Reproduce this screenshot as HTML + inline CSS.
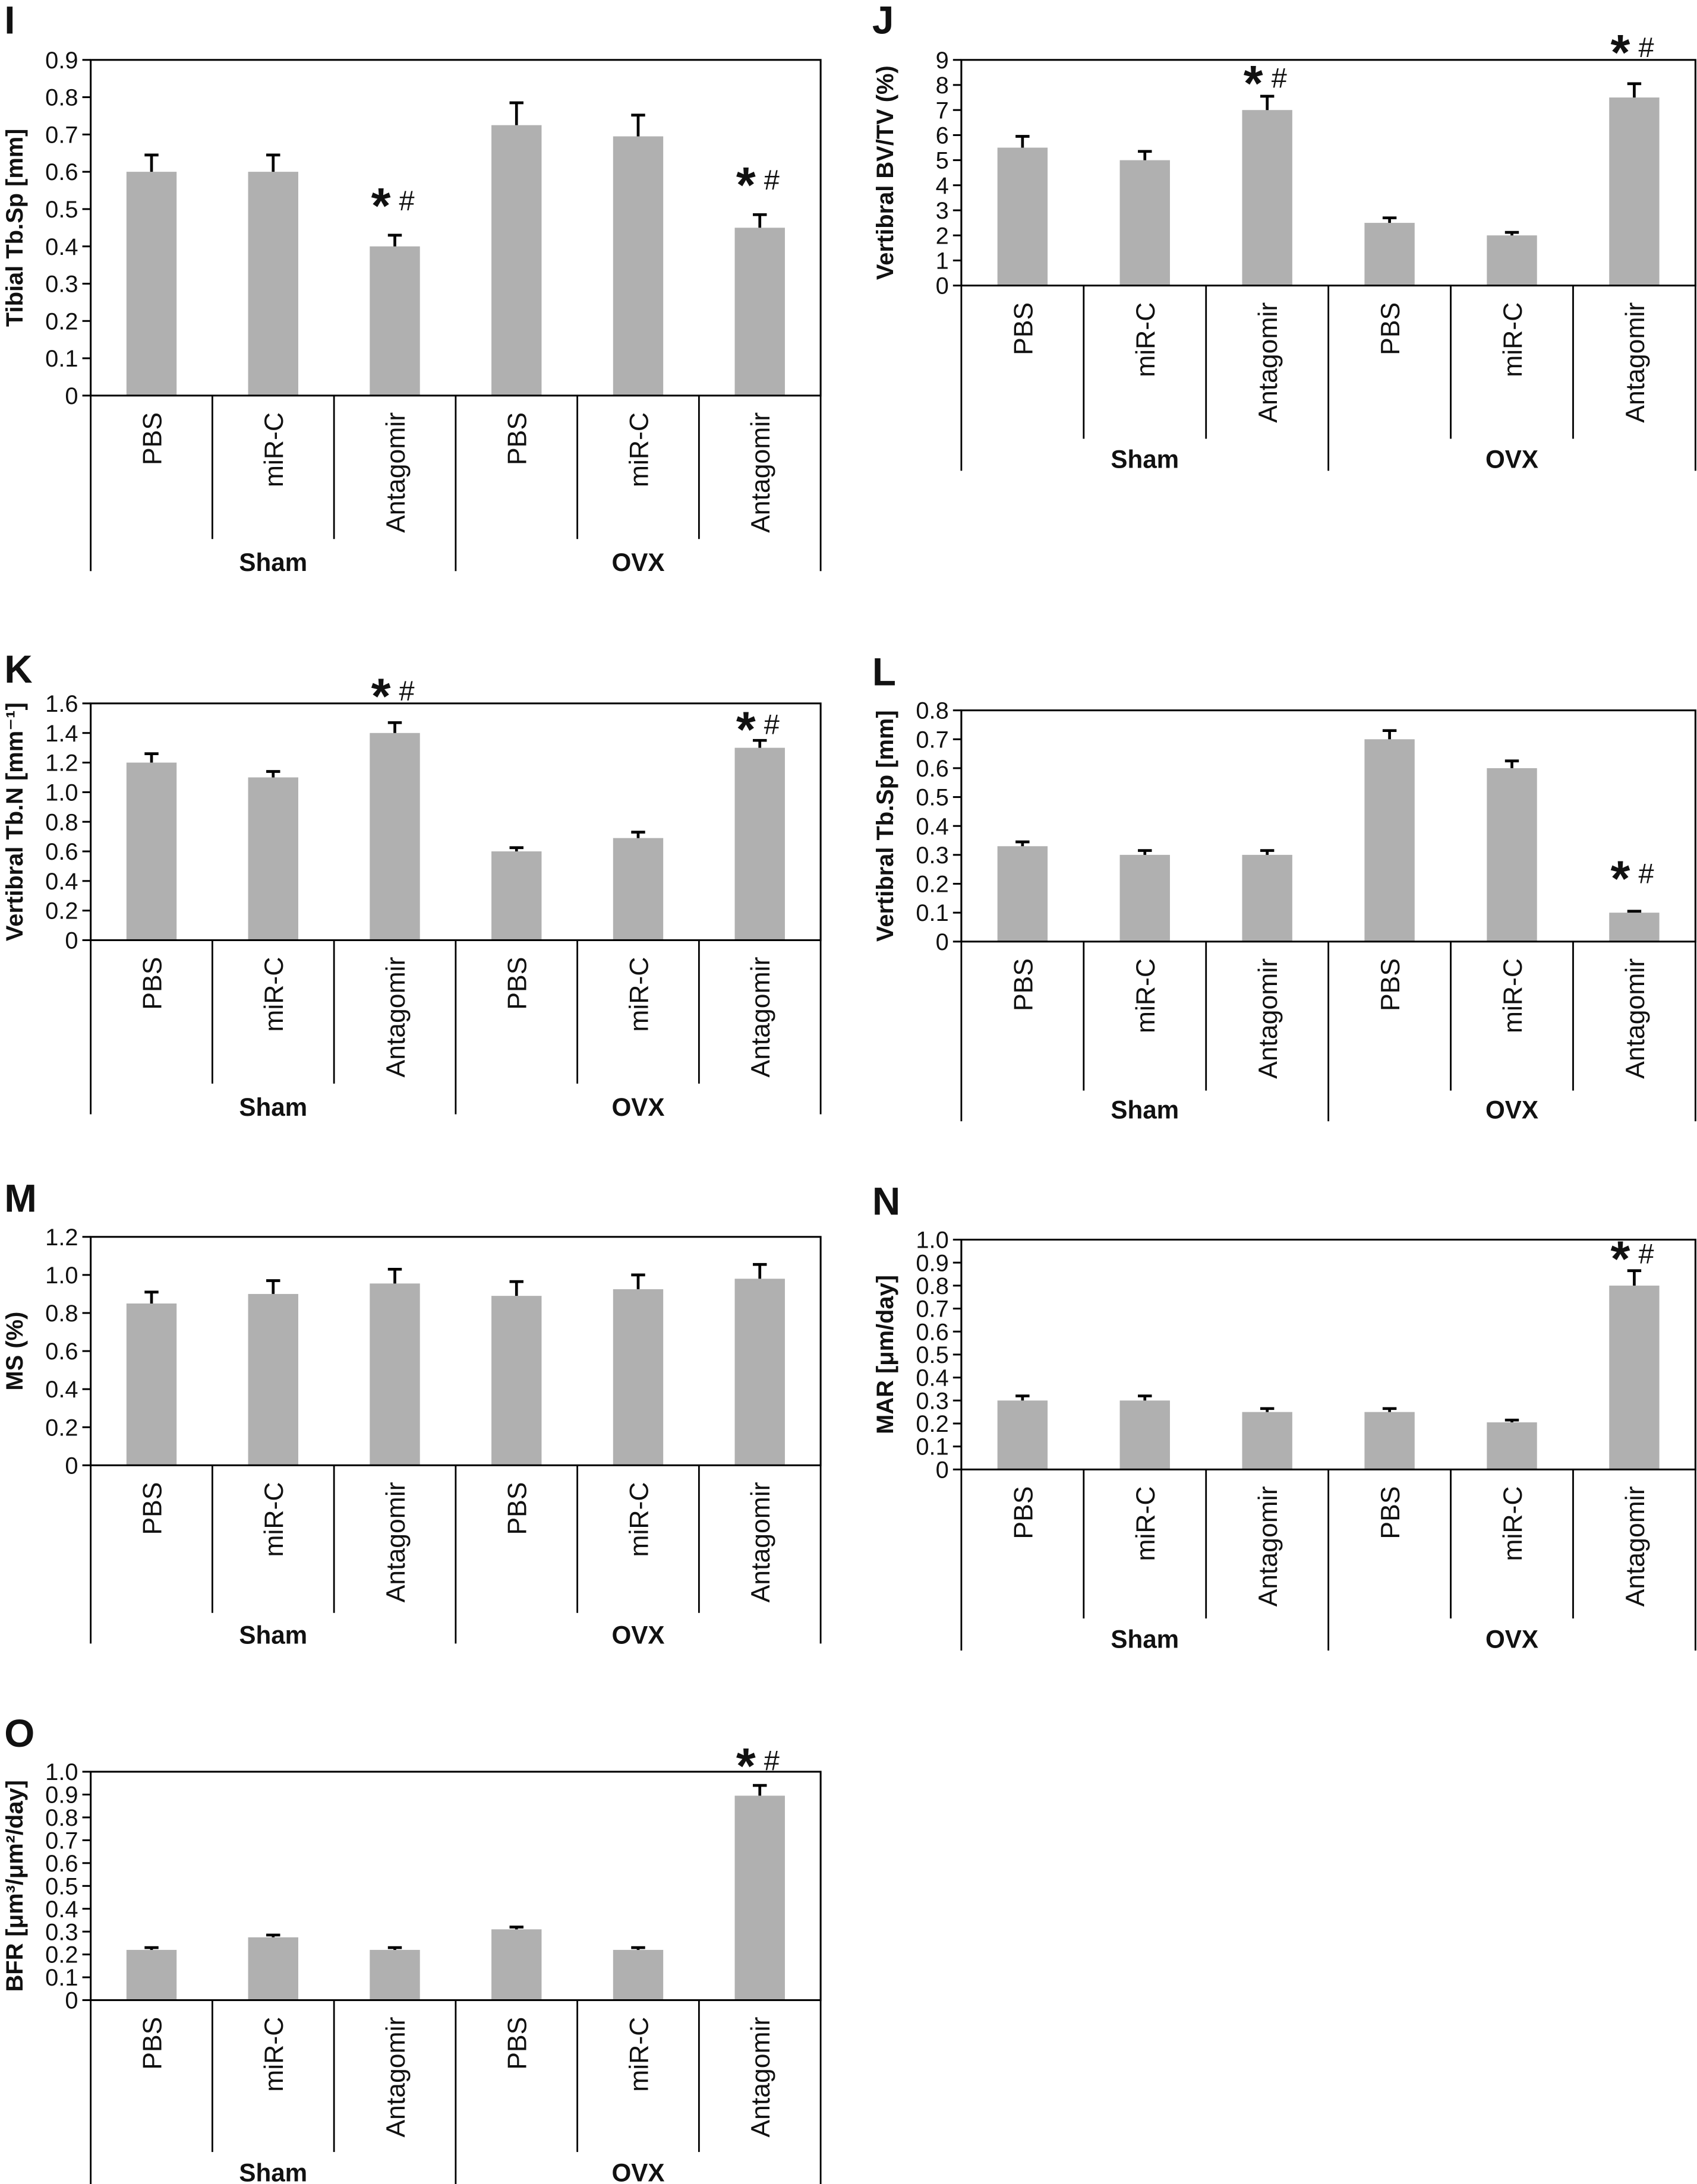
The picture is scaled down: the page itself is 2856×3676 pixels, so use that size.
<!DOCTYPE html>
<html><head><meta charset="utf-8"><style>
html,body{margin:0;padding:0;background:#fff;}
svg{display:block;}
text{font-family:"Liberation Sans","DejaVu Sans",sans-serif;fill:#111;}
</style></head>
<body>
<svg id="fig" width="2856" height="3676" viewBox="0 0 1218 1568" xmlns="http://www.w3.org/2000/svg"></svg>
<script>
const categories = ["PBS","miR-C","Antagomir","PBS","miR-C","Antagomir"];
const groups = ["Sham","OVX"];
const valsI = [0.6,0.6,0.4,0.725,0.695,0.45];
const errI = [0.045,0.045,0.03,0.06,0.057,0.035];
const valsJ = [5.5,5.0,7.0,2.5,2.0,7.5];
const errJ = [0.45,0.35,0.55,0.2,0.12,0.55];
const valsK = [1.2,1.1,1.4,0.6,0.69,1.3];
const errK = [0.06,0.04,0.07,0.025,0.04,0.05];
const valsL = [0.33,0.3,0.3,0.7,0.6,0.1];
const errL = [0.015,0.015,0.015,0.03,0.025,0.005];
const valsM = [0.85,0.9,0.955,0.89,0.925,0.98];
const errM = [0.06,0.07,0.075,0.075,0.075,0.075];
const valsN = [0.3,0.3,0.25,0.25,0.205,0.8];
const errN = [0.02,0.02,0.015,0.015,0.01,0.065];
const valsO = [0.22,0.275,0.22,0.31,0.22,0.895];
const errO = [0.01,0.01,0.01,0.01,0.01,0.045];
const ticksI = ["0","0.1","0.2","0.3","0.4","0.5","0.6","0.7","0.8","0.9"];
const ticksJ = ["0","1","2","3","4","5","6","7","8","9"];
const ticksK = ["0","0.2","0.4","0.6","0.8","1.0","1.2","1.4","1.6"];
const ticksL = ["0","0.1","0.2","0.3","0.4","0.5","0.6","0.7","0.8"];
const ticksM = ["0","0.2","0.4","0.6","0.8","1.0","1.2"];
const ticksN = ["0","0.1","0.2","0.3","0.4","0.5","0.6","0.7","0.8","0.9","1.0"];
const ticksO = ["0","0.1","0.2","0.3","0.4","0.5","0.6","0.7","0.8","0.9","1.0"];

const NS="http://www.w3.org/2000/svg";
const svg=document.getElementById('fig');
function mk(tag,attrs,parent){const e=document.createElementNS(NS,tag);for(const k in attrs)e.setAttribute(k,attrs[k]);(parent||svg).appendChild(e);return e;}

function panel(p){
  const g=mk('g',{});
  
  
  const L=p.left,R=p.right,T=p.top,Z=p.zero;
  const ymax=parseFloat(p.ticks[p.ticks.length-1]);
  const y=v=>Z-(v/ymax)*(Z-T);
  const cw=(R-L)/6;
  const x=i=>L+cw*(i+0.5);
  const lt=mk('text',{x:p.lx,y:p.ly,'font-size':28,'font-weight':'bold'},g);lt.textContent=p.letter;
  
  
  p.vals.forEach((v,i)=>{
    const b=mk('rect',{x:x(i)-18,y:y(v),width:36,height:Z-y(v),fill:'#b0b0b0'},g);
    
    
    const e=p.err[i];
    const eb=mk('path',{d:`M${x(i)} ${y(v)}V${y(v+e)}M${x(i)-5} ${y(v+e)}H${x(i)+5}`,stroke:'#000','stroke-width':2,fill:'none'},g);
    
    
  });
  const fr=mk('rect',{x:L,y:T,width:R-L,height:Z-T,fill:'none',stroke:'#000','stroke-width':1.3},g);
  
  
  p.ticks.forEach(t=>{
    const yy=y(parseFloat(t));
    mk('line',{x1:L-6,x2:L,y1:yy,y2:yy,stroke:'#000','stroke-width':1.3},g);
    const tx=mk('text',{x:L-9,y:yy+6,'font-size':17,'text-anchor':'end'},g);tx.textContent=t;
    
    
  });
  const yt=mk('text',{x:0,y:0,'font-size':17,'font-weight':'bold','text-anchor':'middle',transform:`translate(${p.tx},${(T+Z)/2}) rotate(-90)`},g);
  yt.textContent=p.title;
  
  
  for(let i=0;i<=6;i++){
    const xx=L+cw*i;
    const outer=(i%3===0);
    mk('line',{x1:xx,x2:xx,y1:Z,y2:outer?p.outer:p.inner,stroke:'#000','stroke-width':1.2},g);
  }
  categories.forEach((c,i)=>{
    const ct=mk('text',{x:0,y:0,'font-size':19,'text-anchor':'end',transform:`translate(${x(i)+7},${Z+12}) rotate(-90)`},g);
    ct.textContent=c;
    
    
  });
  groups.forEach((gname,j)=>{
    const gt=mk('text',{x:L+cw*(3*j+1.5),y:p.gy,'font-size':18,'font-weight':'bold','text-anchor':'middle'},g);
    gt.textContent=gname;
    
    
  });
  p.stars.forEach(s=>{
    const st=mk('text',{x:x(s[0])-3,y:s[1]+15,'font-size':36,'font-weight':'bold','text-anchor':'end'},g);st.textContent='*';
    
    
    const h=mk('text',{x:x(s[0])+3,y:s[1]+6,'font-size':20},g);h.textContent='#';
    
    
  });
}

panel({letter:'I',lx:3,ly:24,left:65,right:589,top:43,zero:284,ticks:ticksI,vals:valsI,err:errI,title:'Tibial Tb.Sp [mm]',tx:16,inner:387,outer:410,gy:410,stars:[[2,145],[5,130]]});
panel({letter:'J',lx:626,ly:24,left:690,right:1217,top:43,zero:205,ticks:ticksJ,vals:valsJ,err:errJ,title:'Vertibral BV/TV (%)',tx:641,inner:315,outer:338,gy:336,stars:[[2,57],[5,35]]});
panel({letter:'K',lx:3,ly:490,left:65,right:589,top:505,zero:675,ticks:ticksK,vals:valsK,err:errK,title:'Vertibral Tb.N [mm⁻¹]',tx:16,inner:778,outer:800,gy:801,stars:[[2,497],[5,521]]});
panel({letter:'L',lx:626,ly:492,left:690,right:1217,top:510,zero:676,ticks:ticksL,vals:valsL,err:errL,title:'Vertibral Tb.Sp [mm]',tx:641,inner:783,outer:805,gy:803,stars:[[5,628]]});
panel({letter:'M',lx:3,ly:870,left:65,right:589,top:888,zero:1052,ticks:ticksM,vals:valsM,err:errM,title:'MS (%)',tx:16,inner:1158,outer:1180,gy:1180,stars:[]});
panel({letter:'N',lx:626,ly:872,left:690,right:1217,top:890,zero:1055,ticks:ticksN,vals:valsN,err:errN,title:'MAR [μm/day]',tx:641,inner:1162,outer:1185,gy:1183,stars:[[5,901]]});
panel({letter:'O',lx:3,ly:1254,left:65,right:589,top:1272,zero:1436,ticks:ticksO,vals:valsO,err:errO,title:'BFR [μm³/μm²/day]',tx:16,inner:1545,outer:1568,gy:1566,stars:[[5,1265]]});
</script>
</body></html>
